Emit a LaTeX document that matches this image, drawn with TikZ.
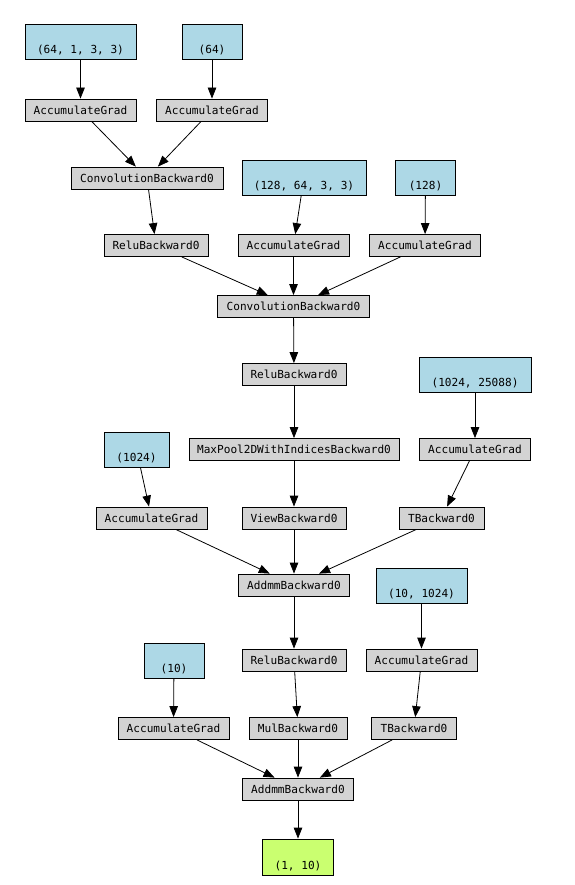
\documentclass[tikz,border=0pt]{standalone}
\usepackage{fontspec}
\newfontfamily\dvm{DejaVu Sans Mono}
\usetikzlibrary{arrows.meta}
\definecolor{gvblue}{HTML}{ADD8E6}
\definecolor{gvgray}{HTML}{D3D3D3}
\definecolor{gvgreen}{HTML}{CAFF70}
\tikzset{
  base/.style={draw=black, line width=0.8pt, rectangle, inner sep=0pt,
    font=\dvm\fontsize{11.1}{13}\selectfont, text=black},
  op/.style={base, fill=gvgray, minimum height=22pt},
  param/.style={base, fill=gvblue, minimum height=35pt, text height=25pt, text depth=1pt},
  outp/.style={base, fill=gvgreen, minimum height=36pt, text height=25pt, text depth=1pt},
  edge/.style={draw=black, line width=0.8pt, -{Triangle[length=11pt,width=8.5pt]}}
}
\begin{document}
\begin{tikzpicture}[x=1pt,y=-1pt]
\useasboundingbox (0,0) rectangle (574,885);
\node[param, minimum width=111pt] (b1) at (80.5,41.5) {(64, 1, 3, 3)};
\node[param, minimum width=60pt] (b2) at (212,41.5) {(64)};
\node[op, minimum width=111pt] (a1) at (80.5,110) {AccumulateGrad};
\node[op, minimum width=111pt] (a2) at (212,110) {AccumulateGrad};
\node[op, minimum width=152pt] (c1) at (147,178) {ConvolutionBackward0};
\node[param, minimum width=124pt] (b3) at (304,177.5) {(128, 64, 3, 3)};
\node[param, minimum width=60pt] (b4) at (425.5,177.5) {(128)};
\node[op, minimum width=104pt] (r1) at (156,245.5) {ReluBackward0};
\node[op, minimum width=111pt] (a3) at (293.5,245.5) {AccumulateGrad};
\node[op, minimum width=111pt] (a4) at (425,245.5) {AccumulateGrad};
\node[op, minimum width=152pt] (c2) at (293.5,306.5) {ConvolutionBackward0};
\node[op, minimum width=104pt] (r2) at (294,374.5) {ReluBackward0};
\node[param, minimum width=112pt] (b5) at (475,374.5) {(1024, 25088)};
\node[op, minimum width=210pt] (mp) at (294,449.5) {MaxPool2DWithIndicesBackward0};
\node[op, minimum width=111pt] (a5) at (475,449.5) {AccumulateGrad};
\node[param, minimum width=65pt] (b6) at (136.5,449.5) {(1024)};
\node[op, minimum width=111pt] (a6) at (151.5,518) {AccumulateGrad};
\node[op, minimum width=104pt] (v) at (294,518) {ViewBackward0};
\node[op, minimum width=85pt] (t1) at (441.5,518) {TBackward0};
\node[op, minimum width=111pt] (d1) at (294,585) {AddmmBackward0};
\node[param, minimum width=91pt] (b7) at (421.5,585.5) {(10, 1024)};
\node[param, minimum width=60pt] (b8) at (174,660.5) {(10)};
\node[op, minimum width=104pt] (r3) at (294,660) {ReluBackward0};
\node[op, minimum width=111pt] (a7) at (421.5,660) {AccumulateGrad};
\node[op, minimum width=111pt] (a8) at (173.5,728.5) {AccumulateGrad};
\node[op, minimum width=98pt] (m) at (298,728.5) {MulBackward0};
\node[op, minimum width=85pt] (t2) at (414,728.5) {TBackward0};
\node[op, minimum width=111pt] (d2) at (298,789) {AddmmBackward0};
\node[outp, minimum width=71pt] (out) at (298,857) {(1, 10)};
\foreach \s/\t in {b1/a1,b2/a2,a1/c1,a2/c1,c1/r1,b3/a3,b4/a4,r1/c2,a3/c2,a4/c2,c2/r2,r2/mp,b5/a5,mp/v,a5/t1,b6/a6,a6/d1,v/d1,t1/d1,d1/r3,b7/a7,r3/m,a7/t2,b8/a8,a8/d2,m/d2,t2/d2,d2/out}
  \draw[edge] (\s) -- (\t);
\end{tikzpicture}
\end{document}
